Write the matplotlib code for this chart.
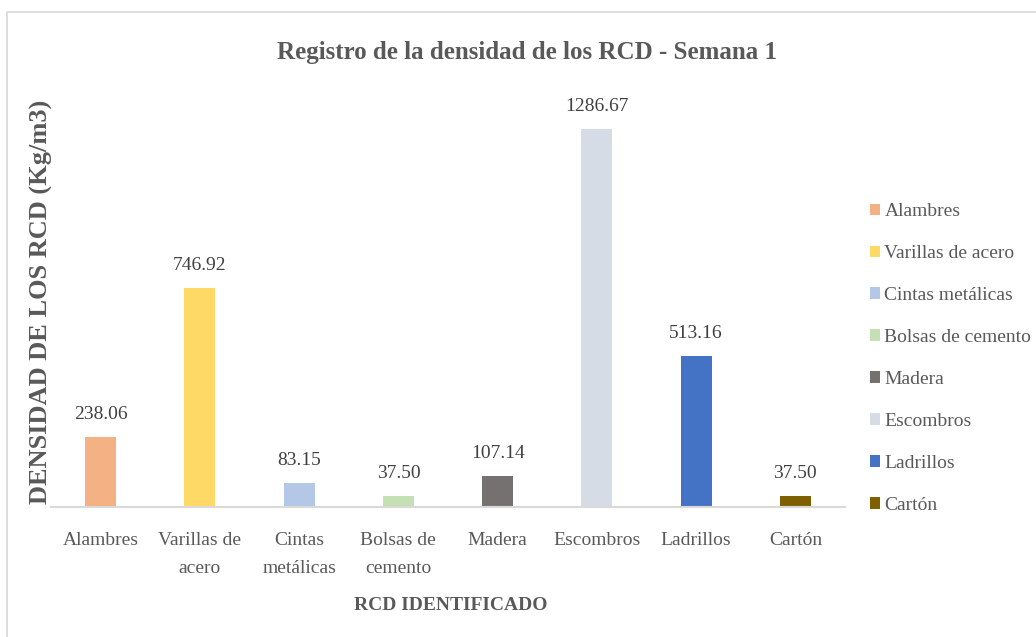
import matplotlib
matplotlib.use("Agg")
import matplotlib.pyplot as plt
from matplotlib.patches import Rectangle

categories = ["Alambres", "Varillas de acero", "Cintas metálicas", "Bolsas de cemento",
              "Madera", "Escombros", "Ladrillos", "Cartón"]
tick_labels = ["Alambres", "Varillas de\nacero", "Cintas\nmetálicas", "Bolsas de\ncemento",
               "Madera", "Escombros", "Ladrillos", "Cartón"]
values = [238.06, 746.92, 83.15, 37.50, 107.14, 1286.67, 513.16, 37.50]
colors = ["#F4B183", "#FFD966", "#B4C7E7", "#C5E0B4", "#767171", "#D6DCE5", "#4472C4", "#7F6000"]

plt.rcParams['font.family'] = ['Liberation Serif', 'DejaVu Serif']

W, H = 1036, 637
fig = plt.figure(figsize=(W / 100, H / 100), dpi=100)
fig.patch.set_facecolor("white")

# outer chart border
fig.patches.append(Rectangle((7 / W, -0.1), 1.2, (1 - 12 / H) + 0.1, transform=fig.transFigure,
                             fill=False, edgecolor="#D9D9D9", linewidth=1.2))

left, right = 51 / W, 845 / W
bottom, top = 1 - 507 / H, 1 - 96 / H
ax = fig.add_axes([left, bottom, right - left, top - bottom])

x = list(range(len(categories)))
bars = ax.bar(x, values, width=0.31, color=colors, label=categories, zorder=2)

ax.set_xlim(-0.5, len(categories) - 0.5)
ax.set_ylim(0, 1400)
ax.set_yticks([])
for s in ["top", "right", "left"]:
    ax.spines[s].set_visible(False)
ax.spines["bottom"].set_color("#D9D9D9")
ax.spines["bottom"].set_linewidth(1.5)

ax.set_xticks(x)
ax.set_xticklabels(tick_labels, fontsize=14, color="#595959", linespacing=1.85, va="top")
ax.tick_params(axis="x", length=0, pad=18)

for xi, v in zip(x, values):
    ax.annotate(f"{v:.2f}", (xi, v), xytext=(0, 10), textcoords="offset points",
                ha="center", va="bottom", fontsize=14, color="#404040")

fig.text(527 / W, 1 - 53 / H, "Registro de la densidad de los RCD - Semana 1",
         ha="center", va="center", fontsize=18, fontweight="bold", color="#595959")
fig.text(41 / W, 1 - 302 / H, "DENSIDAD DE LOS RCD (Kg/m3)", rotation=90,
         ha="center", va="center", fontsize=19, fontweight="bold", color="#595959")
fig.text(451 / W, 1 - 605 / H, "RCD IDENTIFICADO",
         ha="center", va="center", fontsize=14, fontweight="bold", color="#595959")

leg = fig.legend(handles=bars.patches, labels=categories, loc="center left",
                 bbox_to_anchor=(862 / W, 1 - 358.5 / H), frameon=False,
                 fontsize=14, labelcolor="#595959", handlelength=0.55, handleheight=0.55,
                 handletextpad=0.2, labelspacing=1.28, borderaxespad=0)

fig.savefig("out.png", dpi=100)
